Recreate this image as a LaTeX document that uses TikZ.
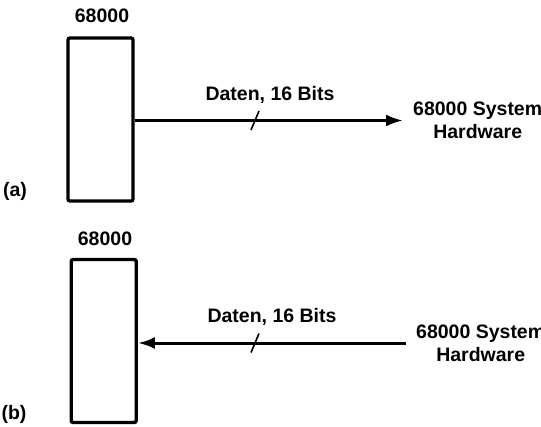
\documentclass[tikz,border=0pt]{standalone}
\usepackage{fontspec}
\setmainfont{Liberation Sans}
\usetikzlibrary{arrows.meta}

\begin{document}
\begin{tikzpicture}[x=1pt,y=-1pt,
  chip/.style={draw,line width=3.4pt,rounded corners=2pt,minimum width=65pt,minimum height=163pt,inner sep=0pt},
  bus/.style={line width=3pt},
  busarrow/.style={bus,-{Latex[length=17pt,width=12pt]}},
  lbl/.style={font=\fontsize{19.5}{23}\selectfont\bfseries,inner sep=0pt},
  buswidth/.style={line width=1.6pt}]
\useasboundingbox (0,0) rectangle (541,426);

% (a): processor driving the data bus
\node[chip] (cpuA) at (100.5,119.5) {};
\node[lbl,anchor=base] (nameA) at (102,22) {68000};
\node[lbl,anchor=west,align=center,inner xsep=10pt] (hwA) at (403,120.5) {68000 System\\Hardware};
\draw[busarrow] (cpuA.east |- hwA.west) -- (hwA.west);
\coordinate (slA) at (255,120.5);
\draw[buswidth] (slA) +(-4,9.5) -- +(4,-9.5);
\node[lbl,anchor=base] (busA) at (270,100.7) {Daten, 16 Bits};
\node[lbl,anchor=base] (tagA) at (15,196.7) {(a)};

% (b): system hardware driving the processor
\node[chip] (cpuB) at (103.7,341) {};
\node[lbl,anchor=base] (nameB) at (105,245) {68000};
\node[lbl,anchor=west,align=center,inner xsep=10pt] (hwB) at (406,343) {68000 System\\Hardware};
\draw[busarrow] (hwB.west) -- (hwB.west -| cpuB.east);
\coordinate (slB) at (255,343);
\draw[buswidth] (slB) +(-4,9.5) -- +(4,-9.5);
\node[lbl,anchor=base] (busB) at (272,322) {Daten, 16 Bits};
\node[lbl,anchor=base] (tagB) at (14,419) {(b)};
\end{tikzpicture}
\end{document}
